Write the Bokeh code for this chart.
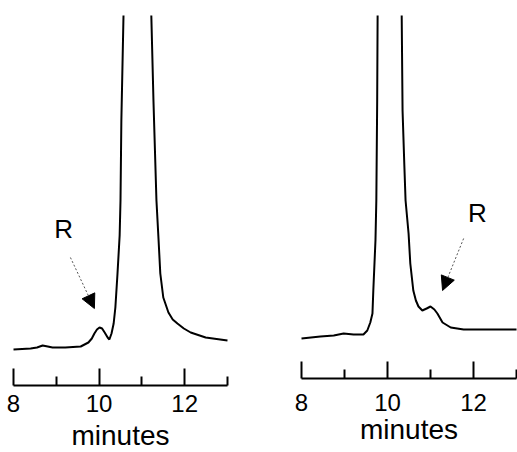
from bokeh.plotting import figure
from bokeh.layouts import row
from bokeh.models import Range1d, FixedTicker, Label, Arrow, NormalHead, LinearAxis
from bokeh.embed import file_html
from bokeh.resources import INLINE

# ---- data (signal in arbitrary units) ----
left_t = [8.00, 8.40, 8.55, 8.68, 8.80, 8.91, 9.21, 9.57, 9.75, 9.83, 9.89, 9.95, 10.01,
          10.07, 10.13, 10.20, 10.24, 10.29, 10.34, 10.38, 10.43, 10.48, 10.50, 10.52,
          10.57, 10.90, 11.22, 11.27, 11.34, 11.39, 11.43, 11.50, 11.62, 11.72, 11.83,
          11.98, 12.14, 12.49, 13.00]
left_y = [36, 37, 38, 40, 39, 38, 38, 39, 43, 47, 52, 56, 58,
          57, 53, 48, 46, 52, 62, 78, 112, 150, 185, 265,
          370, 600, 370, 285, 185, 145, 112, 88, 73, 66, 62,
          57, 53, 48, 45]

right_t = [8.00, 8.44, 8.75, 8.98, 9.21, 9.44, 9.53, 9.60, 9.65, 9.67, 9.70, 9.72, 9.74,
           9.76, 9.77, 10.05, 10.33, 10.35, 10.39, 10.42, 10.49, 10.53, 10.60, 10.66, 10.72,
           10.81, 10.91, 11.00, 11.09, 11.16, 11.28, 11.47, 11.77, 12.16, 13.00]
right_y = [40, 42, 43, 45, 44, 44, 48, 56, 65, 88, 118, 138, 178,
           278, 363, 600, 363, 268, 215, 178, 145, 115, 88, 78, 72,
           68, 70, 72, 69, 65, 56, 51, 49, 49, 49]

axis_bounds = (8, 13)
major_ticks = [8, 10, 12]
minor_ticks = [9, 11, 13]
x_title = "minutes"
peak_name = "R"

left_R = [9.17, 157]
left_arrow = [9.33, 128, 9.89, 77]
right_R = [12.09, 166]
right_arrow = [11.77, 140, 11.28, 88]

FONT = "Liberation Sans"


def panel(t, y, xr, yr, width, standoff, label_standoff, r_pos, arr):
    p = figure(width=width, height=452, output_backend="svg", toolbar_location=None,
               x_range=Range1d(*xr), y_range=Range1d(*yr),
               x_axis_location=None, y_axis_location=None,
               min_border_left=0, min_border_right=0,
               min_border_top=15, min_border_bottom=0)
    p.outline_line_color = None
    p.grid.visible = False
    p.background_fill_color = "white"
    p.border_fill_color = "white"
    p.line(t, y, line_color="black", line_width=2)
    ax = LinearAxis(fixed_location=0, bounds=axis_bounds,
                    ticker=FixedTicker(ticks=major_ticks, minor_ticks=minor_ticks))
    ax.major_tick_in = 17
    ax.major_tick_out = 0
    ax.minor_tick_in = 9
    ax.minor_tick_out = 0
    ax.axis_line_width = 2
    ax.major_tick_line_width = 2
    ax.minor_tick_line_width = 2
    ax.axis_line_color = "black"
    ax.major_tick_line_color = "black"
    ax.minor_tick_line_color = "black"
    ax.major_label_text_font = FONT
    ax.major_label_text_font_size = "24px"
    ax.major_label_text_color = "black"
    ax.major_label_standoff = standoff
    ax.axis_label = x_title
    ax.axis_label_text_font = FONT
    ax.axis_label_text_font_size = "28px"
    ax.axis_label_text_font_style = "normal"
    ax.axis_label_text_color = "black"
    ax.axis_label_standoff = label_standoff
    p.add_layout(ax, "below")
    p.add_layout(Label(x=r_pos[0], y=r_pos[1], text=peak_name, text_font=FONT,
                       text_font_size="26px", text_align="center",
                       text_baseline="middle", text_color="black"))
    p.add_layout(Arrow(x_start=arr[0], y_start=arr[1], x_end=arr[2], y_end=arr[3],
                       line_color="#555555", line_width=1, line_dash="2 2",
                       end=NormalHead(size=14, fill_color="black", line_color="black",
                                      line_width=1)))
    return p


left = panel(left_t, left_y, (7.696, 13.818), (-67, 370), 262, 9, 5, left_R, left_arrow)
right = panel(right_t, right_y, (7.093, 13.023), (-74, 363), 255, 15, 0, right_R, right_arrow)

layout = row(left, right)
open("out.html", "w").write(file_html(layout, INLINE))
